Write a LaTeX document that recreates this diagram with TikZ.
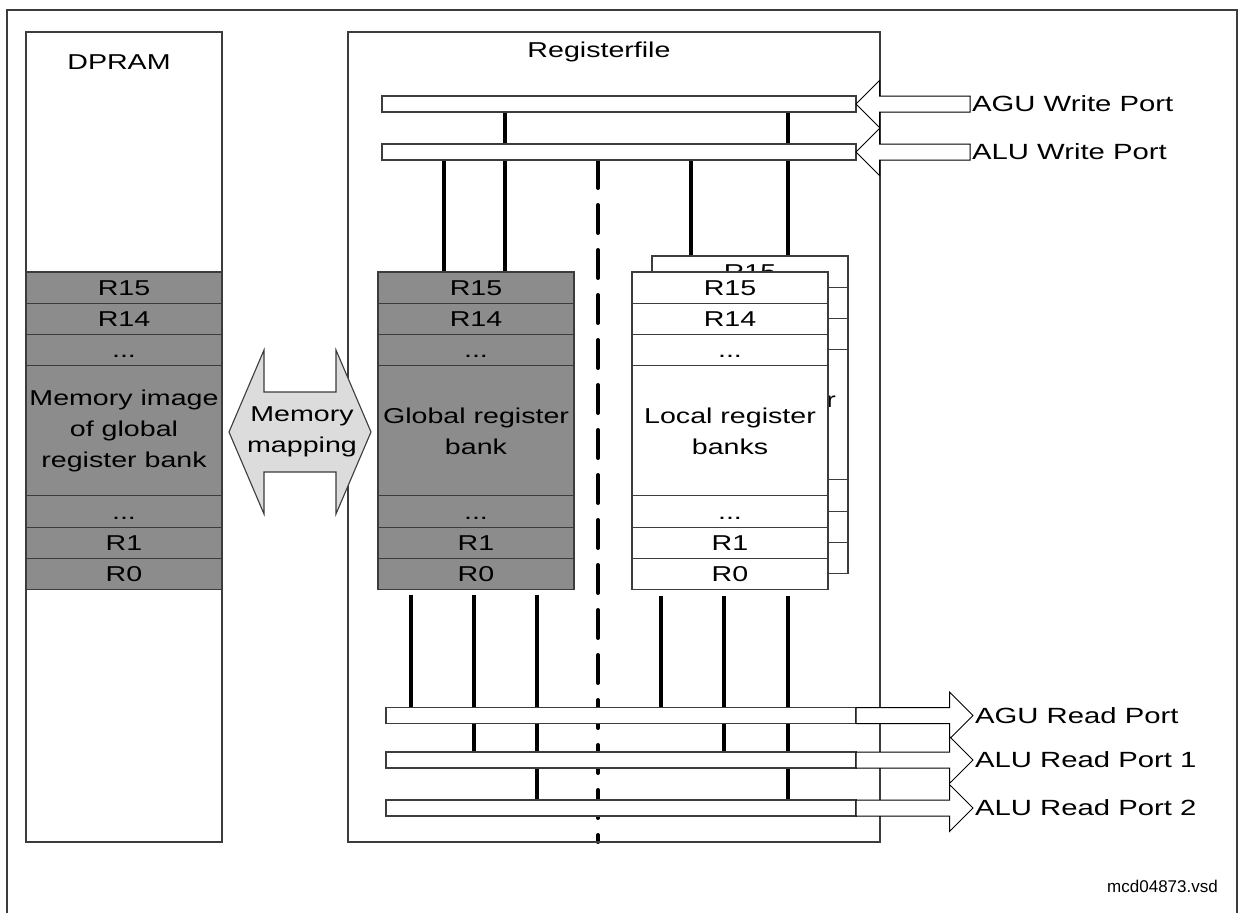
\documentclass[tikz,border=0pt]{standalone}
\usepackage{fontspec}
\setmainfont{Liberation Sans}[FakeStretch=1.33]
\newfontfamily\tagfont{Liberation Sans}
\usetikzlibrary{positioning,shapes.arrows,backgrounds}
\definecolor{regfill}{RGB}{140,140,140}
\definecolor{mapfill}{RGB}{220,220,220}
\definecolor{edge}{RGB}{60,60,60}
\tikzset{
  lbl/.style={font=\fontsize{21.5}{31}\selectfont, align=center, inner sep=0pt},
  reg/.style={draw=edge, line width=1.1pt, minimum width=196pt, inner sep=0pt,
              outer sep=0pt, font=\fontsize{21.5}{31}\selectfont, align=center},
  row/.style={reg, minimum height=31.3pt, text height=15pt, text depth=0pt},
  frame/.style={draw=edge, line width=1.1pt, inner sep=0pt, outer sep=0pt},
  bar/.style={draw=edge, line width=1.1pt, fill=white, inner sep=0pt,
              outer sep=0pt, minimum height=16pt},
  port/.style={single arrow, draw=black, line width=1pt, fill=white, inner sep=7.5pt,
              outer sep=0pt, single arrow head extend=15.5pt},
  portlbl/.style={font=\fontsize{22}{26}\selectfont, inner sep=2pt, anchor=west},
  wire/.style={line width=4pt},
  divider/.style={line width=4pt, dash pattern=on 28pt off 17pt, line cap=round},
  maparrow/.style={draw=edge, line width=1.1pt, fill=mapfill},
}
% one register stack: name, top left corner, fill, middle text
\newcommand{\regbank}[4]{%
  \node[row, fill=#3, anchor=north west] (#1-15) at (#2) {R15};
  \node[row, fill=#3, below=0pt of #1-15] (#1-14) {R14};
  \node[row, fill=#3, below=0pt of #1-14] (#1-hi) {...};
  \node[reg, fill=#3, minimum height=130pt, below=0pt of #1-hi] (#1-mid) {#4};
  \node[row, fill=#3, below=0pt of #1-mid] (#1-lo) {...};
  \node[row, fill=#3, below=0pt of #1-lo] (#1-1) {R1};
  \node[row, fill=#3, below=0pt of #1-1] (#1-0) {R0};
}

\begin{document}
\begin{tikzpicture}[x=1pt, y=-1pt]
  \useasboundingbox (0,0) rectangle (1243,913);
  \draw[edge, line width=1.1pt] (7,913) |- (1237,10) -- (1237,913);

  % memory and register file
  \node[frame, minimum width=196pt, minimum height=810pt, anchor=north west] (dpram) at (26,32) {};
  \node[lbl] (dpram-t) at (119,62) {DPRAM};
  \node[frame, minimum width=532pt, minimum height=810pt, anchor=north west] (rf) at (348,32) {};
  \node[lbl] (rf-t) at (599,52) {Registerfile};

  \regbank{dp}{26,272}{regfill}{Memory image\\of global\\register bank}
  \regbank{gl}{378,272}{regfill}{Global register\\bank}
  \regbank{lb}{652,256}{white}{Local register\\banks}
  \regbank{lf}{632,272}{white}{Local register\\banks}

  % memory mapping
  \draw[maparrow] (229,432) -- (264,350) -- (264,392) -- (336,392) -- (336,350)
    -- (371,432) -- (336,514) -- (336,472) -- (264,472) -- (264,514) -- cycle;
  \node[lbl] (map) at (302,432) {Memory\\mapping};

  % write ports
  \node[bar, minimum width=474pt, anchor=west] (agu-w) at (382,104) {};
  \node[bar, minimum width=474pt, anchor=west] (alu-w) at (382,152) {};
  \node[port, shape border rotate=180, minimum height=114pt, anchor=tip] (agu-wa) at (agu-w.east) {};
  \node[port, shape border rotate=180, minimum height=114pt, anchor=tip] (alu-wa) at (alu-w.east) {};
  \node[portlbl] (agu-wl) at (agu-wa.tail) {AGU Write Port};
  \node[portlbl] (alu-wl) at (alu-wa.tail) {ALU Write Port};

  % read ports
  \node[bar, minimum width=470pt, anchor=west] (agu-r) at (386,715.5) {};
  \node[bar, minimum width=470pt, anchor=west] (alu-r1) at (386,760) {};
  \node[bar, minimum width=470pt, anchor=west] (alu-r2) at (386,808) {};
  \foreach \p/\t in {agu-r/AGU Read Port, alu-r1/ALU Read Port 1, alu-r2/ALU Read Port 2} {
    \node[port, minimum height=117pt, anchor=tail] (\p a) at (\p.east) {};
    \node[portlbl] (\p l) at (\p a.tip) {\t};
  }

  \node[anchor=east, inner sep=0pt, font=\tagfont\fontsize{17}{20}\selectfont] (vsd) at (1218,886) {mcd04873.vsd};

  \begin{scope}[on background layer]
    \draw[wire] (agu-w.south -| 505,0) -- (gl-15.north -| 505,0);
    \draw[wire] (alu-w.south -| 444,0) -- (gl-15.north -| 444,0);
    \draw[wire] (alu-w.south -| 691,0) -- (lb-15.north -| 691,0);
    \draw[wire] (agu-w.south -| 788,0) -- (lb-15.north -| 788,0);
    \foreach \x/\p in {411/agu-r, 474/alu-r1, 537/alu-r2}
      \draw[wire, shorten <=5pt] (gl-0.south -| \x,0) -- (\p.north -| \x,0);
    \foreach \x/\p in {661/agu-r, 724/alu-r1, 788/alu-r2}
      \draw[wire, shorten <=6pt] (lf-0.south -| \x,0) -- (\p.north -| \x,0);
    \draw[divider] (alu-w.south -| 598,0) -- (rf.south -| 598,0);
  \end{scope}
\end{tikzpicture}
\end{document}
